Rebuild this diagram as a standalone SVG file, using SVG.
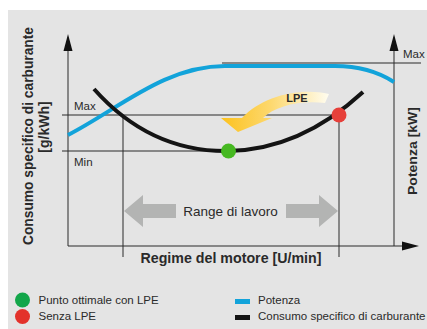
<svg xmlns="http://www.w3.org/2000/svg" width="427" height="329" viewBox="0 0 427 329">
<defs>
<style>
.t{font-family:"Liberation Sans",Arial,sans-serif;fill:#2a2a2a}
.b{font-weight:bold}
.ln{stroke:#2a2a2a;stroke-width:1;fill:none}
.ax{fill:#111}
.gr{fill:#b3b4b3}
</style>
<linearGradient id="lpe" gradientUnits="userSpaceOnUse" x1="222" y1="0" x2="330" y2="0">
<stop offset="0" stop-color="#fcc21f"/>
<stop offset="0.45" stop-color="#fdd86e"/>
<stop offset="1" stop-color="#fffdf2"/>
</linearGradient>
</defs>
<rect x="0" y="0" width="427" height="329" fill="#ffffff"/>
<rect x="8" y="10" width="419" height="319" fill="#e4e4e4"/>

<g id="connectors">
<path class="ln" d="M68,246 H403 M68,246 V50 M394,246 V50"/>
<path class="ax" d="M68,34 L63.5,51 L72.5,51 Z"/>
<path class="ax" d="M394,34 L389.5,51 L398.5,51 Z"/>
<path class="ax" d="M419,246 L402,241.5 L402,250.5 Z"/>
<path class="ln" d="M62,115 H339 M62,151 H228 M123,115 V257 M339,115 V257 M222,63 H421"/>
</g>

<g id="power-curve">
<path d="M68,135 C120,108 165,66 225,66 L335,66 C362,66 380,73 394,82" fill="none" stroke="#12a3da" stroke-width="4"/>
</g>
<g id="consumption-curve">
<path d="M94,89 Q150,152 228,151 Q300,150 363,92" fill="none" stroke="#141414" stroke-width="4"/>
</g>

<g id="lpe-arrow">
<path d="M329,94 C300,87 262,96 242,118 L221,118 L238,132 L272,118 L263,118 C275,106 300,100 325,103 Z" fill="url(#lpe)"/>
<text class="t b" x="297" y="102" font-size="11" text-anchor="middle">LPE</text>
</g>

<g id="point-optimal">
<circle cx="228.5" cy="151" r="7.5" fill="#46b821"/>
</g>
<g id="point-no-lpe">
<circle cx="339" cy="115" r="7.5" fill="#e6403a"/>
</g>

<g id="range">
<path class="gr" d="M124,211 L143,195 L143,204 L176,204 L176,218 L143,218 L143,227 Z"/>
<path class="gr" d="M338,211 L319,195 L319,204 L286,204 L286,218 L319,218 L319,227 Z"/>
<text class="t" x="230.5" y="216" font-size="13.5" text-anchor="middle">Range di lavoro</text>
</g>

<g id="labels">
<text class="t" x="74" y="110" font-size="11.5">Max</text>
<text class="t" x="74" y="166" font-size="11.5">Min</text>
<text class="t" x="403" y="58" font-size="11.5">Max</text>
<text class="t b" x="231" y="263" font-size="14" text-anchor="middle" textLength="181" lengthAdjust="spacingAndGlyphs">Regime del motore [U/min]</text>
<text class="t b" transform="translate(33,136) rotate(-90)" font-size="14" text-anchor="middle" textLength="218" lengthAdjust="spacingAndGlyphs">Consumo specifico di carburante</text>
<text class="t b" transform="translate(48.5,127) rotate(-90)" font-size="14" text-anchor="middle">[g/kWh]</text>
<text class="t b" transform="translate(417,151) rotate(-90)" font-size="13" text-anchor="middle" textLength="88" lengthAdjust="spacingAndGlyphs">Potenza [kW]</text>
</g>

<g id="legend">
<circle cx="22.5" cy="300" r="7.5" fill="#13a64a"/>
<circle cx="22.5" cy="316.5" r="7.5" fill="#e3322b"/>
<text class="t" x="38.5" y="304" font-size="11.5">Punto ottimale con LPE</text>
<text class="t" x="38.5" y="320" font-size="11.5">Senza LPE</text>
<rect x="235" y="299" width="15" height="5" fill="#12a3da"/>
<rect x="235" y="315" width="15" height="5" fill="#141414"/>
<text class="t" x="258" y="304" font-size="11.5">Potenza</text>
<text class="t" x="258" y="320" font-size="11.5">Consumo specifico di carburante</text>
</g>
</svg>
